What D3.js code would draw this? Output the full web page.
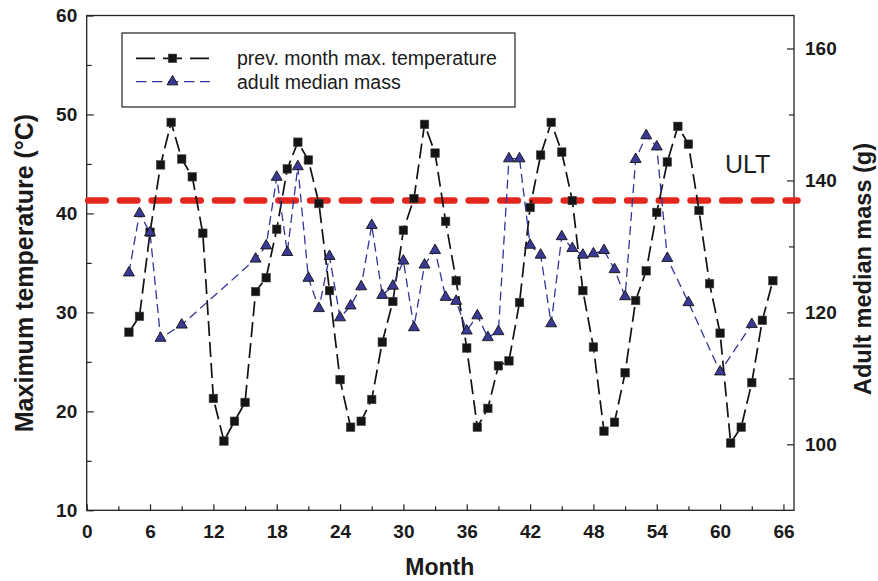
<!DOCTYPE html>
<html>
<head>
<meta charset="utf-8">
<script src="https://cdn.jsdelivr.net/npm/d3@7/dist/d3.min.js"></script>
<style>
  body { margin: 0; background: #fff; }
  svg { display: block; font-family: "Liberation Sans", Arial, Helvetica, sans-serif; }
</style>
</head>
<body>
<svg id="chart" width="878" height="581"></svg>
<script>
// ---- data ----
const tempMonths = [4,5,6,7,8,9,10,11,12,13,14,15,16,17,18,19,20,21,22,23,24,25,26,27,28,29,30,31,32,33,34,35,36,37,38,39,40,41,42,43,44,45,46,47,48,49,50,51,52,53,54,55,56,57,58,59,60,61,62,63,64,65];
const tempValues = [28.0,29.6,38.1,44.9,49.2,45.5,43.7,38.0,21.3,17.0,19.0,20.9,32.1,33.5,38.4,44.5,47.2,45.4,41.0,32.2,23.2,18.4,19.0,21.2,27.0,31.1,38.3,41.5,49.0,46.1,39.2,33.2,26.4,18.4,20.3,24.6,25.1,31.0,40.6,45.9,49.2,46.2,41.3,32.2,26.5,18.0,18.9,23.9,31.2,34.2,40.1,45.2,48.8,47.0,40.3,32.9,27.9,16.8,18.4,22.9,29.2,33.2];
const massMonths = [4,5,6,7,9,16,17,18,19,20,21,22,23,24,25,26,27,28,29,30,31,32,33,34,35,36,37,38,39,40,41,42,43,44,45,46,47,48,49,50,51,52,53,54,55,57,60,63];
const massValues = [126.0,135.0,132.1,116.1,118.1,128.1,130.1,140.5,129.1,142.1,125.2,120.6,128.5,119.2,121.0,123.9,133.2,122.6,124.0,127.8,117.7,127.2,129.4,122.3,121.7,117.2,119.5,116.2,117.1,143.3,143.3,130.2,128.7,118.3,131.5,129.7,128.7,128.9,129.4,126.5,122.4,143.2,146.8,145.1,128.2,121.5,111.0,118.2];
const ultValue = 41.3;
const xTickLabels = [0,6,12,18,24,30,36,42,48,54,60,66];
const xMinorTicks = [3,9,15,21,27,33,39,45,51,57,63];
const leftTickLabels = [10,20,30,40,50,60];
const leftMinorTicks = [15,25,35,45,55];
const rightTickLabels = [100,120,140,160];
const rightMinorTicks = [110,130,150];
const seriesNames = ["prev. month max. temperature", "adult median mass"];

// ---- layout ----
const svg = d3.select("#chart");
const L = 86.7, R = 794, T = 15.5, B = 510.3;
const x = d3.scaleLinear().domain([0, 67]).range([L, R]);
const yL = d3.scaleLinear().domain([10, 60]).range([B, T]);
const yR = d3.scaleLinear().domain([90, 165]).range([B, T]);

const tempData = tempMonths.map((m, i) => ({ m, v: tempValues[i] }));
const massData = massMonths.map((m, i) => ({ m, v: massValues[i] }));

const axisColor = "#222";
const tickFont = 19;

function styleAxis(g) {
  g.select(".domain").remove();
  g.selectAll(".tick line").attr("stroke", axisColor).attr("stroke-width", 1.2);
  g.selectAll(".tick text").attr("fill", "#1a1a1a").style("font-size", tickFont + "px").style("font-weight", "bold");
}

// x axis
svg.append("g").attr("transform", `translate(0,${B})`)
  .call(d3.axisBottom(x).tickValues(xTickLabels).tickSize(-6).tickPadding(14.5).tickFormat(d3.format("d")))
  .call(styleAxis);
svg.append("g").attr("transform", `translate(0,${B})`)
  .call(d3.axisBottom(x).tickValues(xMinorTicks).tickSize(-4).tickFormat(""))
  .call(styleAxis);

// left axis
svg.append("g").attr("transform", `translate(${L},0)`)
  .call(d3.axisLeft(yL).tickValues(leftTickLabels).tickSize(-7).tickPadding(9.5).tickFormat(d3.format("d")))
  .call(styleAxis);
svg.append("g").attr("transform", `translate(${L},0)`)
  .call(d3.axisLeft(yL).tickValues(leftMinorTicks).tickSize(-5).tickFormat(""))
  .call(styleAxis);

// right axis
svg.append("g").attr("transform", `translate(${R},0)`)
  .call(d3.axisRight(yR).tickValues(rightTickLabels).tickSize(-7).tickPadding(11).tickFormat(d3.format("d")))
  .call(styleAxis);
svg.append("g").attr("transform", `translate(${R},0)`)
  .call(d3.axisRight(yR).tickValues(rightMinorTicks).tickSize(-5).tickFormat(""))
  .call(styleAxis);

// frame
svg.append("rect").attr("x", L).attr("y", T).attr("width", R - L).attr("height", B - T)
  .attr("fill", "none").attr("stroke", axisColor).attr("stroke-width", 1.3);

// ULT line
svg.append("line")
  .attr("x1", L + 1.5).attr("x2", R + 3.5)
  .attr("y1", yL(ultValue)).attr("y2", yL(ultValue))
  .attr("stroke", "#e3271c").attr("stroke-width", 6.5)
  .attr("stroke-linecap", "round").attr("stroke-dasharray", "17.5,14.2");
svg.append("text").attr("x", 725).attr("y", 172.5)
  .style("font-size", "25px").attr("fill", "#222").text("ULT");

// temperature series
const lineT = d3.line().x(d => x(d.m)).y(d => yL(d.v));
svg.append("path").datum(tempData).attr("d", lineT)
  .attr("fill", "none").attr("stroke", "#111").attr("stroke-width", 1.7)
  .attr("stroke-dasharray", "15,6");
const sq = 8.5;
svg.append("g").selectAll("rect").data(tempData).join("rect")
  .attr("x", d => x(d.m) - sq / 2).attr("y", d => yL(d.v) - sq / 2)
  .attr("width", sq).attr("height", sq)
  .attr("fill", "#141414").attr("stroke", "#444").attr("stroke-width", 0.6);

// mass series
const lineM = d3.line().x(d => x(d.m)).y(d => yR(d.v));
svg.append("path").datum(massData).attr("d", lineM)
  .attr("fill", "none").attr("stroke", "#34349a").attr("stroke-width", 1.3)
  .attr("stroke-dasharray", "9,5");
const tri = d3.symbol().type(d3.symbolTriangle).size(52);
svg.append("g").selectAll("path").data(massData).join("path")
  .attr("d", tri)
  .attr("transform", d => `translate(${x(d.m)},${yR(d.v)})`)
  .attr("fill", "#3a3a96").attr("stroke", "#111").attr("stroke-width", 0.9);

// legend
const lg = svg.append("g");
lg.append("rect").attr("x", 122).attr("y", 33).attr("width", 393).attr("height", 74)
  .attr("fill", "#fff").attr("stroke", axisColor).attr("stroke-width", 1.2);
const rowY = [58.3, 81.7];
lg.append("line").attr("x1", 136).attr("x2", 210).attr("y1", rowY[0]).attr("y2", rowY[0])
  .attr("stroke", "#111").attr("stroke-width", 1.7).attr("stroke-dasharray", "19,8");
lg.append("rect").attr("x", 172.5 - sq / 2).attr("y", rowY[0] - sq / 2).attr("width", sq).attr("height", sq)
  .attr("fill", "#141414").attr("stroke", "#444").attr("stroke-width", 0.6);
lg.append("line").attr("x1", 136).attr("x2", 210).attr("y1", rowY[1]).attr("y2", rowY[1])
  .attr("stroke", "#34349a").attr("stroke-width", 1.3).attr("stroke-dasharray", "10.5,5.5");
lg.append("path").attr("d", tri).attr("transform", `translate(172.5,${rowY[1]})`)
  .attr("fill", "#3a3a96").attr("stroke", "#111").attr("stroke-width", 0.9);
seriesNames.forEach((n, i) => {
  lg.append("text").attr("x", 237).attr("y", rowY[i]).attr("dy", "0.35em")
    .style("font-size", "19.5px").attr("fill", "#1a1a1a").text(n);
});

// axis titles
svg.append("text").attr("x", (L + R) / 2 - 0.5).attr("y", 575)
  .attr("text-anchor", "middle").style("font-size", "23px").style("font-weight", "bold")
  .attr("fill", "#1a1a1a").text("Month");
svg.append("text").attr("transform", "translate(33,273) rotate(-90)")
  .attr("text-anchor", "middle").style("font-size", "25px").style("font-weight", "bold")
  .attr("fill", "#1a1a1a").text("Maximum temperature (°C)");
svg.append("text").attr("transform", "translate(871,269) rotate(-90)")
  .attr("text-anchor", "middle").style("font-size", "23.5px").style("font-weight", "bold")
  .attr("fill", "#1a1a1a").text("Adult median mass (g)");
</script>
</body>
</html>
